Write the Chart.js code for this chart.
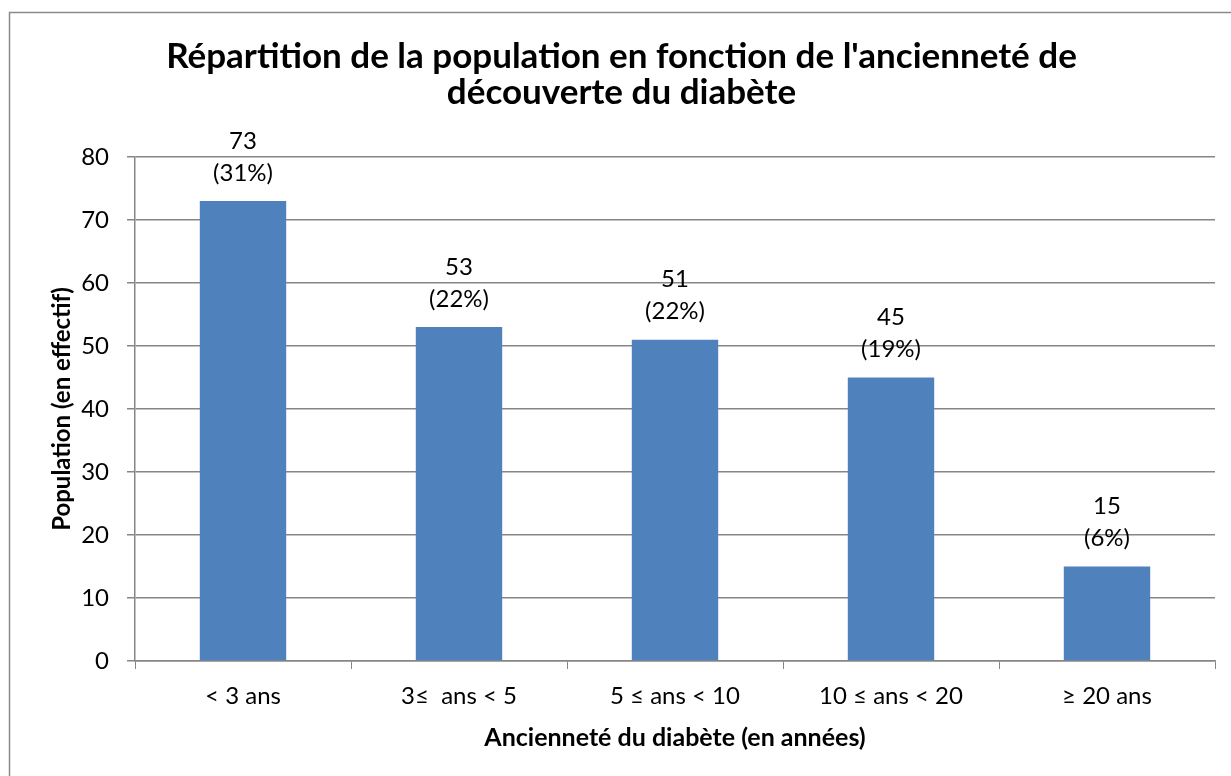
<!DOCTYPE html>
<html lang="fr">
<head>
<meta charset="utf-8">
<title>Répartition de la population</title>
<script src="https://cdn.jsdelivr.net/npm/chart.js@4.4.0/dist/chart.umd.min.js"></script>
<style>
  html, body { margin: 0; padding: 0; background: #fff; }
  #wrap { width: 1231px; height: 776px; }
</style>
</head>
<body>
<div id="wrap"><canvas id="chart" width="1231" height="776"></canvas></div>
<script>
// chart data
const categories = ['< 3 ans', '3\u2264  ans < 5', '5 \u2264 ans < 10', '10 \u2264 ans < 20', '\u2265 20 ans'];
const counts = [73, 53, 51, 45, 15];
const percents = [31, 22, 22, 19, 6];
const titleLines = ["Répartition de la population en fonction de l'ancienneté de", 'découverte du diabète'];
const yTitle = 'Population (en effectif)';
const xTitle = 'Ancienneté du diabète (en années)';

const FONT = 'Lato, Calibri, "Open Sans", sans-serif';
const GRID = '#868686';

// gray frame round the whole chart
const framePlugin = {
  id: 'frame',
  beforeDraw(chart) {
    const ctx = chart.ctx;
    ctx.save();
    ctx.fillStyle = '#fff';
    ctx.fillRect(0, 0, chart.width, chart.height);
    ctx.strokeStyle = '#8a8a8a';
    ctx.lineWidth = 1.5;
    ctx.strokeRect(9.5, 12.5, chart.width + 20, chart.height + 20);
    ctx.restore();
  }
};

// value + percent above each bar
const barLabels = {
  id: 'barLabels',
  afterDatasetsDraw(chart) {
    const ctx = chart.ctx;
    const meta = chart.getDatasetMeta(0);
    ctx.save();
    ctx.font = '24px ' + FONT;
    ctx.fillStyle = '#000';
    ctx.textAlign = 'center';
    ctx.textBaseline = 'middle';
    meta.data.forEach((bar, i) => {
      ctx.fillText(String(counts[i]), bar.x, bar.y - 60);
      ctx.fillText('(' + percents[i] + '%)', bar.x, bar.y - 28);
    });
    ctx.restore();
  }
};

new Chart(document.getElementById('chart'), {
  type: 'bar',
  data: {
    labels: categories,
    datasets: [{
      data: counts,
      backgroundColor: '#4F81BD',
      borderWidth: 0,
      barPercentage: 0.4,
      categoryPercentage: 1.0
    }]
  },
  options: {
    responsive: false,
    animation: false,
    layout: { padding: { left: 28, right: 16, top: 0, bottom: 0 } },
    plugins: {
      legend: { display: false },
      tooltip: { enabled: false },
      title: {
        display: true,
        text: titleLines,
        color: '#000',
        font: { family: FONT, size: 35, weight: 'bold', lineHeight: '36px' },
        padding: { top: 39, bottom: 46 }
      }
    },
    scales: {
      x: {
        afterFit(scale) { scale.height = 115; },
        grid: { drawOnChartArea: false, drawTicks: true, tickLength: 8, color: GRID, offset: true },
        border: { color: GRID, width: 1.5 },
        ticks: { color: '#000', padding: 13, maxRotation: 0, font: { family: FONT, size: 24 } },
        title: {
          display: true, text: xTitle, color: '#000',
          font: { family: FONT, size: 25, weight: 'bold', lineHeight: 1.2 },
          padding: { top: 0, bottom: 23 }
        }
      },
      y: {
        min: 0, max: 80,
        afterFit(scale) { scale.width = 107; },
        grid: { color: GRID, lineWidth: 1.5, tickLength: 8 },
        border: { color: GRID, width: 1.5 },
        ticks: { stepSize: 10, color: '#000', padding: 18, font: { family: FONT, size: 24 } },
        title: {
          display: true, text: yTitle, color: '#000',
          font: { family: FONT, size: 24, weight: 'bold', lineHeight: 1.2 },
          padding: { top: 20, bottom: 0 }
        }
      }
    }
  },
  plugins: [framePlugin, barLabels]
});
</script>
</body>
</html>
